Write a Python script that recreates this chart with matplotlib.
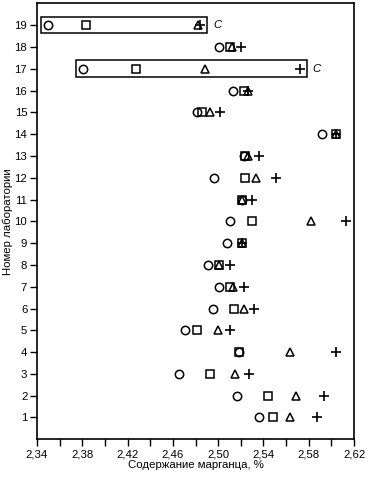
import numpy as np
import matplotlib
matplotlib.use('Agg')
import matplotlib.pyplot as plt
from matplotlib.patches import Rectangle
from matplotlib.ticker import FixedLocator, MultipleLocator, FuncFormatter

plt.rcParams['font.family'] = ['Liberation Sans', 'DejaVu Sans']

# laboratory numbers and the four results per laboratory (Mn content, %)
labs = np.arange(1, 20)
circle = [2.536, 2.517, 2.465, 2.518, 2.471, 2.495, 2.501, 2.491, 2.508, 2.510,
          2.521, 2.496, 2.523, 2.592, 2.481, 2.513, 2.381, 2.501, 2.350]
square = [2.548, 2.544, 2.493, 2.518, 2.481, 2.514, 2.510, 2.501, 2.521, 2.530,
          2.521, 2.524, 2.524, 2.604, 2.486, 2.523, 2.427, 2.510, 2.383]
triangle = [2.563, 2.569, 2.515, 2.563, 2.500, 2.523, 2.513, 2.501, 2.521, 2.582,
            2.521, 2.533, 2.526, 2.604, 2.493, 2.526, 2.488, 2.512, 2.482]
plus = [2.587, 2.593, 2.527, 2.604, 2.510, 2.532, 2.523, 2.510, 2.521, 2.613,
        2.530, 2.551, 2.536, 2.604, 2.502, 2.526, 2.572, 2.520, 2.484]

# laboratories marked as outliers ("C")
outliers = [17, 19]
xticks = [2.34, 2.38, 2.42, 2.46, 2.50, 2.54, 2.58, 2.62]

fig = plt.figure(figsize=(3.7, 4.78), dpi=100)
ax = fig.add_axes([0.1, 0.081, 0.857, 0.912])

ms = 6
ax.plot(circle, labs, 'o', ms=ms, mfc='none', mec='black', mew=1.1, ls='none')
ax.plot(square, labs, 's', ms=ms, mfc='none', mec='black', mew=1.1, ls='none')
ax.plot(triangle, labs, '^', ms=ms, mfc='none', mec='black', mew=1.1, ls='none')
ax.plot(plus, labs, '+', ms=ms + 1.5, mec='black', mew=1.2, ls='none')

pad = 0.0065
for lab in outliers:
    i = lab - 1
    vals = [circle[i], square[i], triangle[i], plus[i]]
    x0 = min(vals) - pad
    x1 = max(vals) + pad
    ax.add_patch(Rectangle((x0, lab - 0.38), x1 - x0, 0.76, fill=False,
                           ec='black', lw=1.1))
    ax.text(x1 + 0.005, lab, 'C', va='center', ha='left', fontsize=8.2,
            style='italic')

ax.set_xlim(2.34, 2.62)
ax.set_ylim(0, 20)
ax.xaxis.set_major_locator(FixedLocator(xticks))
ax.xaxis.set_minor_locator(MultipleLocator(0.02))
ax.xaxis.set_major_formatter(FuncFormatter(lambda v, p: f'{v:.2f}'.replace('.', ',')))
ax.set_yticks(labs)

ax.tick_params(axis='both', which='both', direction='out', length=5, width=1,
               labelsize=8.2, color='black', pad=2)
ax.tick_params(axis='x', which='minor', length=5)
for s in ax.spines.values():
    s.set_linewidth(1.2)

ax.set_xlabel('Содержание марганца, %', fontsize=8.2, labelpad=1)
ax.set_ylabel('Номер лаборатории', fontsize=8.2, labelpad=1)

fig.savefig('out.png', dpi=100)
